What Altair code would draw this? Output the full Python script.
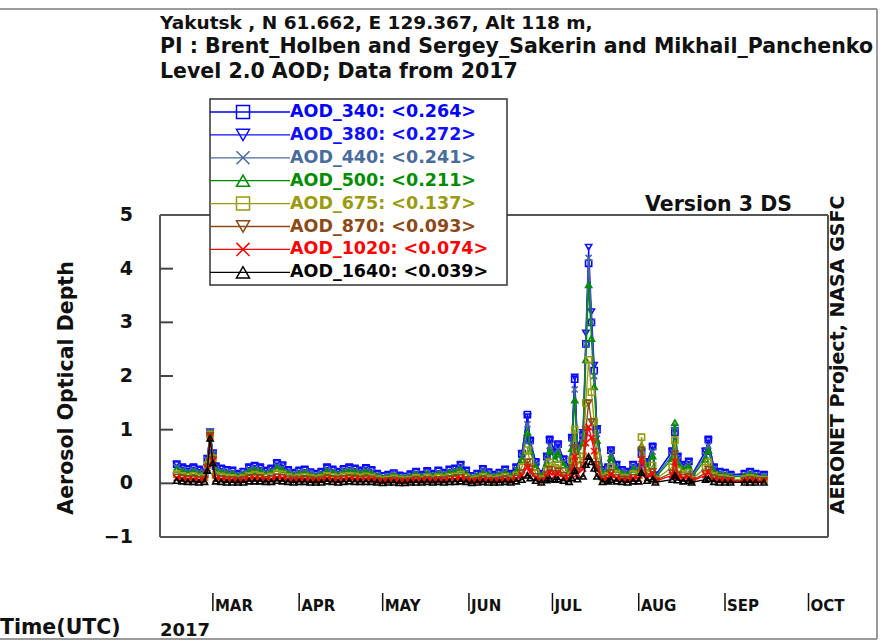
import altair as alt
import pandas as pd

# ---- daily mean AOD, Yakutsk 2017 (Level 2.0) ----
dates = [
    "02-16", "02-18", "02-20", "02-22", "02-24", "02-26", "02-27", "02-28",
    "03-01", "03-02", "03-04", "03-06", "03-08", "03-10", "03-12", "03-14",
    "03-16", "03-18", "03-20", "03-22", "03-24", "03-26", "03-28", "03-30",
    "04-01", "04-03", "04-05", "04-07", "04-09", "04-11", "04-13", "04-15",
    "04-17", "04-19", "04-21", "04-23", "04-25", "04-27", "04-29",
    "05-01", "05-03", "05-05", "05-07", "05-09", "05-11", "05-13", "05-15",
    "05-17", "05-19", "05-21", "05-23", "05-25", "05-27", "05-29", "05-31",
    "06-02", "06-04", "06-06", "06-08", "06-10", "06-12", "06-14", "06-16",
    "06-18", "06-20", "06-22", "06-23", "06-25", "06-27", "06-29", "06-30",
    "07-02", "07-03", "07-05", "07-07", "07-08", "07-09", "07-10", "07-12",
    "07-13", "07-14", "07-15", "07-16", "07-17", "07-19", "07-21", "07-22",
    "07-24", "07-26", "07-28", "07-30",
    "08-01", "08-02", "08-04", "08-06", "08-07", "08-13", "08-14", "08-15",
    "08-17", "08-19", "08-20", "08-25", "08-26", "08-28", "08-30",
    "09-01", "09-03", "09-08", "09-10", "09-12", "09-15",
]

aod_340 = [
    .36, .30, .27, .30, .26, .22, .45, .92,
    .55, .32, .28, .25, .24, .18, .22, .30, .33, .30, .24, .28, .38, .34, .25, .20,
    .24, .26, .21, .18, .22, .30, .26, .22, .27, .30, .28, .24, .29, .25, .18,
    .14, .16, .19, .15, .13, .17, .22, .16, .23, .18, .24, .20, .26, .28, .35, .24,
    .14, .18, .27, .21, .16, .20, .26, .18, .30, .55, 1.28, .80, .40, .18, .50, .82,
    .60, .73, .45, .30, .85, 1.94, .70, .90, 2.60, 4.10, 3.00, 2.10, 1.00, .25, .30, .62, .35, .25, .22, .35,
    .30, .55, .40, .69, .15, .60, .95, .50, .35, .41, .15, .60, .82, .30, .22,
    .20, .16, .18, .22, .18, .16,
]
aod_380 = [
    .35, .29, .26, .29, .25, .22, .47, .96,
    .57, .31, .27, .24, .23, .17, .22, .29, .32, .29, .23, .27, .37, .33, .24, .19,
    .23, .25, .20, .17, .21, .29, .25, .21, .26, .29, .27, .23, .28, .24, .17,
    .14, .15, .18, .14, .13, .16, .21, .15, .22, .17, .23, .19, .25, .27, .34, .23,
    .14, .17, .26, .20, .15, .19, .25, .17, .29, .56, 1.24, .78, .39, .17, .49, .80,
    .59, .72, .44, .29, .84, 1.98, .69, .95, 2.80, 4.40, 3.20, 2.20, 1.02, .24, .29, .61, .34, .24, .21, .34,
    .29, .58, .39, .67, .15, .59, .98, .49, .34, .40, .15, .59, .80, .29, .21,
    .19, .15, .17, .21, .17, .15,
]
aod_440 = [
    .30, .25, .22, .25, .21, .19, .44, .97,
    .55, .27, .23, .21, .20, .15, .19, .25, .28, .25, .20, .23, .32, .28, .21, .17,
    .20, .22, .18, .15, .18, .25, .22, .18, .23, .25, .24, .20, .24, .21, .15,
    .12, .13, .16, .12, .11, .14, .18, .13, .19, .15, .20, .17, .22, .24, .29, .20,
    .12, .15, .22, .17, .13, .17, .22, .15, .26, .50, 1.10, .70, .34, .15, .43, .70,
    .52, .63, .39, .26, .75, 1.75, .61, .85, 2.60, 4.20, 3.00, 2.00, .92, .21, .25, .54, .30, .21, .18, .30,
    .26, .62, .34, .59, .13, .52, 1.05, .43, .30, .35, .13, .52, .70, .26, .18,
    .17, .13, .15, .18, .15, .13,
]
aod_500 = [
    .26, .22, .19, .21, .18, .17, .40, .94,
    .52, .23, .20, .18, .17, .13, .16, .22, .24, .22, .17, .20, .28, .25, .18, .15,
    .17, .19, .15, .13, .16, .22, .19, .16, .20, .22, .21, .18, .21, .18, .13,
    .10, .12, .14, .11, .10, .12, .16, .12, .17, .13, .17, .15, .19, .21, .25, .17,
    .10, .13, .19, .15, .12, .15, .19, .13, .23, .44, .95, .60, .30, .13, .37, .60,
    .45, .55, .34, .22, .65, 1.55, .53, .75, 2.30, 3.70, 2.70, 1.80, .80, .18, .22, .47, .26, .18, .16, .26,
    .23, .70, .30, .51, .11, .46, 1.13, .37, .26, .31, .11, .45, .61, .22, .16,
    .15, .12, .13, .16, .13, .12,
]
aod_675 = [
    .17, .14, .12, .14, .11, .11, .34, .91,
    .47, .15, .13, .11, .10, .08, .10, .14, .16, .14, .11, .13, .18, .16, .12, .09,
    .11, .12, .10, .08, .10, .14, .12, .10, .13, .14, .13, .11, .13, .11, .08,
    .06, .07, .09, .07, .06, .07, .10, .07, .11, .08, .11, .09, .12, .13, .16, .11,
    .06, .08, .12, .09, .07, .09, .12, .08, .15, .30, .62, .40, .19, .08, .24, .39,
    .29, .35, .22, .14, .43, 1.00, .34, .50, 1.50, 2.30, 1.70, 1.15, .52, .11, .14, .30, .17, .11, .10, .17,
    .15, .86, .19, .33, .07, .30, .80, .24, .17, .20, .07, .29, .39, .14, .10,
    .09, .07, .08, .10, .08, .07,
]
aod_870 = [
    .12, .10, .08, .09, .07, .08, .30, .89,
    .44, .10, .09, .07, .07, .05, .07, .10, .11, .10, .07, .09, .12, .11, .08, .06,
    .08, .08, .07, .05, .07, .10, .08, .07, .09, .10, .09, .08, .09, .08, .05,
    .04, .05, .06, .04, .04, .05, .07, .05, .07, .05, .07, .06, .08, .09, .11, .07,
    .04, .05, .08, .06, .05, .06, .08, .05, .10, .20, .40, .27, .13, .05, .16, .26,
    .19, .23, .15, .10, .29, .66, .23, .34, 1.00, 1.50, 1.15, .78, .35, .08, .10, .20, .11, .08, .07, .11,
    .10, .62, .13, .22, .05, .20, .55, .16, .11, .13, .05, .19, .26, .10, .07,
    .06, .05, .05, .07, .05, .05,
]
aod_1020 = [
    .10, .08, .06, .07, .05, .06, .28, .87,
    .42, .08, .07, .06, .05, .04, .05, .08, .09, .08, .06, .07, .10, .09, .06, .05,
    .06, .06, .05, .04, .05, .08, .06, .05, .07, .08, .07, .06, .07, .06, .04,
    .03, .04, .05, .03, .03, .04, .05, .04, .06, .04, .06, .05, .06, .07, .09, .06,
    .03, .04, .06, .05, .04, .05, .06, .04, .08, .15, .31, .21, .10, .04, .12, .20,
    .15, .18, .11, .07, .22, .50, .17, .27, .75, 1.05, .85, .60, .27, .06, .08, .16, .09, .06, .05, .09,
    .08, .45, .10, .17, .04, .15, .40, .12, .09, .10, .04, .15, .20, .07, .05,
    .05, .04, .04, .05, .04, .04,
]
aod_1640 = [
    .05, .04, .03, .03, .02, .03, .24, .84,
    .38, .04, .03, .02, .02, .02, .02, .04, .04, .04, .03, .03, .05, .04, .03, .02,
    .03, .03, .02, .02, .02, .04, .03, .02, .03, .04, .03, .03, .03, .03, .02,
    .01, .02, .02, .01, .01, .02, .02, .02, .03, .02, .03, .02, .03, .03, .04, .03,
    .01, .02, .03, .02, .02, .02, .03, .02, .04, .07, .15, .10, .05, .02, .06, .09,
    .07, .08, .05, .03, .10, .24, .08, .13, .35, .50, .40, .28, .13, .03, .04, .07, .04, .03, .02, .04,
    .04, .20, .05, .08, .02, .07, .15, .06, .04, .05, .02, .07, .09, .03, .02,
    .02, .02, .02, .02, .02, .02,
]

series_names = ["AOD_340", "AOD_380", "AOD_440", "AOD_500",
                "AOD_675", "AOD_870", "AOD_1020", "AOD_1640"]
series_means = ["0.264", "0.272", "0.241", "0.211", "0.137", "0.093", "0.074", "0.039"]
series_values = [aod_340, aod_380, aod_440, aod_500, aod_675, aod_870, aod_1020, aod_1640]

month_labels = ["MAR", "APR", "MAY", "JUN", "JUL", "AUG", "SEP", "OCT"]
month_starts = ["03-01", "04-01", "05-01", "06-01", "07-01", "08-01", "09-01", "10-01"]
y_ticks = [-1, 0, 1, 2, 3, 4, 5]

# ---- styling ----
X_SHAPE = "M-1,-1L1,1M-1,1L1,-1"
series_colors = ["#0000ff", "#1010ff", "#4a6c9c", "#008c00",
                 "#9a9a10", "#8b4a18", "#ff0000", "#000000"]
series_shapes = ["square", "triangle-down", X_SHAPE, "triangle-up",
                 "square", "triangle-down", X_SHAPE, "triangle-up"]
FONT = "DejaVu Sans"
W, H = 668, 322


def day_of_year(md):
    return pd.Timestamp(f"2017-{md}").dayofyear


doy = [day_of_year(d) for d in dates]
xs = alt.Scale(domain=[41, 281])
ys = alt.Scale(domain=[-1, 5])
one = pd.DataFrame({"k": [0]})

layers = []

# frame around the plot area
frame = pd.DataFrame({"x1": [0, 0, 0, W], "x2": [W, W, 0, W],
                      "y1": [0, H, 0, 0], "y2": [0, H, H, H]})
layers.append(
    alt.Chart(frame).mark_rule(color="#555555", strokeWidth=2).encode(
        x=alt.X("x1:Q", scale=None), x2="x2:Q",
        y=alt.Y("y1:Q", scale=None), y2="y2:Q")
)

# inward tick marks on the AOD axis
layers.append(
    alt.Chart(pd.DataFrame({"v": y_ticks[1:-1]})).mark_rule(
        color="#444444", strokeWidth=2).encode(
        x=alt.value(0), x2=alt.value(13),
        y=alt.Y("v:Q", scale=ys, axis=None))
)
layers.append(
    alt.Chart(pd.DataFrame({"v": y_ticks})).mark_text(
        font=FONT, fontSize=19, fontWeight="bold", align="right",
        baseline="middle", color="#111111").encode(
        x=alt.value(-27), y=alt.Y("v:Q", scale=ys, axis=None),
        text=alt.Text("v:Q", format="d"))
)

# month ticks and labels below the plot
months = pd.DataFrame({"doy": [day_of_year(m) for m in month_starts],
                       "label": month_labels})
layers.append(
    alt.Chart(months).mark_rule(color="#111111", strokeWidth=1.5).encode(
        x=alt.X("doy:Q", scale=xs, axis=None),
        y=alt.value(378), y2=alt.value(396))
)
layers.append(
    alt.Chart(months).mark_text(
        font=FONT, fontSize=15, fontWeight="bold", align="left",
        baseline="alphabetic", dx=2, color="#111111").encode(
        x=alt.X("doy:Q", scale=xs, axis=None), y=alt.value(396), text="label:N")
)

# one line + marker layer per wavelength
for name, vals, col, shp in zip(series_names, series_values, series_colors, series_shapes):
    df = pd.DataFrame({"doy": doy, "aod": vals})
    enc = dict(x=alt.X("doy:Q", scale=xs, axis=None),
               y=alt.Y("aod:Q", scale=ys, axis=None))
    layers.append(alt.Chart(df).mark_line(color=col, strokeWidth=1.3).encode(**enc))
    layers.append(alt.Chart(df).mark_point(
        color=col, shape=shp, filled=False, size=38, strokeWidth=1.6,
        opacity=1).encode(**enc))

# legend box
layers.append(
    alt.Chart(one).mark_rect(fill="white", stroke="#333333", strokeWidth=1.5).encode(
        x=alt.value(50), x2=alt.value(347), y=alt.value(-116), y2=alt.value(70))
)
legend = pd.DataFrame({
    "row": list(range(len(series_names))),
    "label": [f"{n}: <{m}>" for n, m in zip(series_names, series_means)],
    "color": series_colors,
    "shape": series_shapes,
})
legend_base = alt.Chart(legend).transform_calculate(py="-103 + 22.9 * datum.row")
layers.append(
    legend_base.mark_rule(strokeWidth=1.3).encode(
        x=alt.value(50), x2=alt.value(130),
        y=alt.Y("py:Q", scale=None), color=alt.Color("color:N", scale=None))
)
layers.append(
    legend_base.mark_point(filled=False, size=170, strokeWidth=1.5, opacity=1).encode(
        x=alt.value(83), y=alt.Y("py:Q", scale=None),
        color=alt.Color("color:N", scale=None), shape=alt.Shape("shape:N", scale=None))
)
layers.append(
    legend_base.mark_text(font=FONT, fontSize=17.5, fontWeight="bold",
                          align="left", baseline="middle").encode(
        x=alt.value(130), y=alt.Y("py:Q", scale=None), text="label:N",
        color=alt.Color("color:N", scale=None))
)

# free-standing text around the plot
texts = [
    ("Yakutsk , N 61.662, E 129.367, Alt 118 m,", 0, -186, 18.5),
    ("PI : Brent_Holben and Sergey_Sakerin and Mikhail_Panchenko", 0, -162, 20.5),
    ("Level 2.0 AOD; Data from 2017", 0, -137, 20.5),
    ("Version 3 DS", 485, -4, 20.5),
    ("Time(UTC)", -160, 419, 20.5),
    ("2017", 0, 421, 18),
]
for txt, tx, ty, fs in texts:
    layers.append(
        alt.Chart(one).mark_text(text=txt, font=FONT, fontSize=fs, fontWeight="bold",
                                 align="left", baseline="alphabetic",
                                 color="#111111").encode(
            x=alt.value(tx), y=alt.value(ty))
    )
layers.append(
    alt.Chart(one).mark_text(text="Aerosol Optical Depth", font=FONT, fontSize=20.5,
                             fontWeight="bold", angle=270, align="center",
                             baseline="middle", color="#111111").encode(
        x=alt.value(-93), y=alt.value(173))
)
layers.append(
    alt.Chart(one).mark_text(text="AERONET Project, NASA GSFC", font=FONT, fontSize=19,
                             fontWeight="bold", angle=270, align="center",
                             baseline="middle", color="#111111").encode(
        x=alt.value(678), y=alt.value(140))
)

# outer page border
border = pd.DataFrame({"x1": [-160, 717, -160], "x2": [717, 717, 717],
                       "y1": [-206, -206, 424], "y2": [-206, 424, 424]})
layers.append(
    alt.Chart(border).mark_rule(color="#9a9a9a", strokeWidth=2).encode(
        x=alt.X("x1:Q", scale=None), x2="x2:Q",
        y=alt.Y("y1:Q", scale=None), y2="y2:Q")
)

chart = alt.layer(*layers).properties(
    width=W, height=H,
    padding={"left": 160, "top": 215, "right": 54, "bottom": 104},
    autosize=alt.AutoSizeParams(type="none"),
    background="white",
).configure_view(stroke=None)

chart.save("out.html", embed_options={"renderer": "svg", "actions": False})
